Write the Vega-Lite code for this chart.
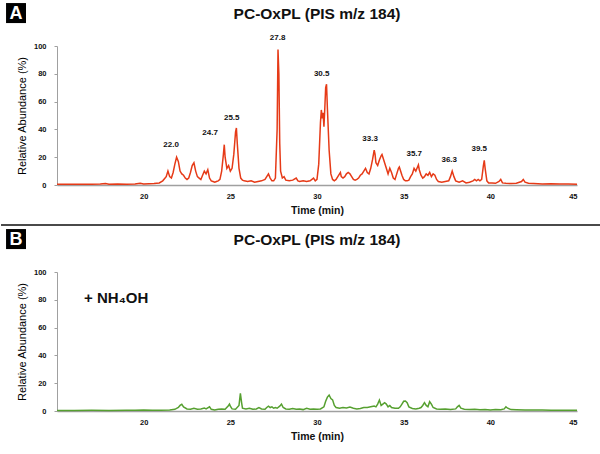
{
  "$schema": "https://vega.github.io/schema/vega-lite/v6.json",
  "padding": {"top": 3, "left": 0, "right": 0, "bottom": 0},
  "spacing": 2,
  "config": {
    "font": "Liberation Sans",
    "view": {"stroke": null},
    "axis": {"grid": false, "labelFont": "Liberation Sans", "labelFontSize": 7.5, "labelFontWeight": "bold", "labelColor": "#111111", "labelOverlap": false, "titleFont": "Liberation Sans", "titleColor": "#111111", "domainColor": "#a0a0a0", "tickColor": "#a0a0a0"},
    "axisX": {"ticks": false, "tickSize": 0, "labelPadding": 7, "titleFontSize": 10.5, "titleFontWeight": "bold", "titlePadding": 6, "domainWidth": 1.5},
    "axisY": {"tickSize": 3, "labelPadding": 8, "titleFontSize": 11, "titleFontWeight": "normal", "titleColor": "#000000", "titlePadding": 6},
    "title": {"font": "Liberation Sans", "fontSize": 15.5, "fontWeight": "bold", "color": "#111111", "anchor": "middle", "frame": "group", "baseline": "alphabetic"}
  },
  "datasets": {
    "a": [
      {"t":15.0,"v":0.5},{"t":15.5,"v":0.6},{"t":16.0,"v":0.5},{"t":16.5,"v":0.6},{"t":17.0,"v":0.5},{"t":17.5,"v":0.7},{"t":17.8,"v":1.0},{"t":18.0,"v":0.6},{"t":18.5,"v":0.7},{"t":19.0,"v":0.6},{"t":19.5,"v":0.8},{"t":19.8,"v":1.2},{"t":20.0,"v":0.7},{"t":20.3,"v":0.9},{"t":20.6,"v":1.0},{"t":20.9,"v":1.5},
      {"t":21.1,"v":3},{"t":21.3,"v":6},{"t":21.4,"v":10},{"t":21.5,"v":6},{"t":21.6,"v":5},{"t":21.7,"v":9},{"t":21.8,"v":15},{"t":21.9,"v":20},{"t":22.0,"v":17},{"t":22.1,"v":10},{"t":22.2,"v":8},{"t":22.3,"v":7},{"t":22.4,"v":5},{"t":22.5,"v":4},{"t":22.6,"v":5},{"t":22.7,"v":9},{"t":22.8,"v":14},{"t":22.9,"v":16},{"t":23.0,"v":10},{"t":23.1,"v":6},{"t":23.2,"v":5},{"t":23.3,"v":4},{"t":23.4,"v":7},{"t":23.5,"v":10},{"t":23.6,"v":8},{"t":23.7,"v":11},{"t":23.8,"v":5},{"t":23.9,"v":3},{"t":24.0,"v":2.5},{"t":24.1,"v":2},{"t":24.2,"v":2.5},{"t":24.3,"v":3},{"t":24.4,"v":4},{"t":24.5,"v":10},{"t":24.6,"v":22},{"t":24.65,"v":29},{"t":24.7,"v":20},{"t":24.8,"v":12},{"t":24.9,"v":14},{"t":25.0,"v":10},{"t":25.1,"v":12},{"t":25.2,"v":22},{"t":25.3,"v":38},{"t":25.35,"v":41},{"t":25.4,"v":30},{"t":25.5,"v":12},{"t":25.6,"v":5},{"t":25.7,"v":3.5},{"t":25.8,"v":3},{"t":26.0,"v":2.5},{"t":26.2,"v":3},{"t":26.4,"v":2},{"t":26.6,"v":2.5},{"t":26.8,"v":3},{"t":27.0,"v":4},{"t":27.1,"v":6},{"t":27.2,"v":8},{"t":27.3,"v":5},{"t":27.4,"v":3},{"t":27.5,"v":3},{"t":27.6,"v":5},{"t":27.7,"v":40},{"t":27.75,"v":97.5},{"t":27.8,"v":80},{"t":27.85,"v":30},{"t":27.9,"v":10},{"t":28.0,"v":5},{"t":28.1,"v":6},{"t":28.2,"v":3.5},{"t":28.4,"v":3},{"t":28.6,"v":3.5},{"t":28.8,"v":5},{"t":28.9,"v":3},{"t":29.0,"v":2.5},{"t":29.2,"v":3},{"t":29.4,"v":2.5},{"t":29.6,"v":3},{"t":29.8,"v":5},{"t":29.9,"v":3},{"t":30.0,"v":4},{"t":30.1,"v":15},{"t":30.2,"v":45},{"t":30.25,"v":54},{"t":30.3,"v":48},{"t":30.35,"v":52},{"t":30.4,"v":42},{"t":30.45,"v":55},{"t":30.5,"v":70},{"t":30.55,"v":72.5},{"t":30.6,"v":55},{"t":30.7,"v":25},{"t":30.8,"v":8},{"t":30.9,"v":4},{"t":31.0,"v":3},{"t":31.1,"v":4},{"t":31.2,"v":6},{"t":31.3,"v":8},{"t":31.35,"v":9},{"t":31.4,"v":6},{"t":31.5,"v":5},{"t":31.6,"v":6},{"t":31.7,"v":8},{"t":31.8,"v":9},{"t":31.9,"v":8},{"t":32.0,"v":6},{"t":32.1,"v":4},{"t":32.2,"v":3.5},{"t":32.3,"v":4},{"t":32.4,"v":5},{"t":32.5,"v":7},{"t":32.6,"v":8},{"t":32.7,"v":10},{"t":32.8,"v":12},{"t":32.9,"v":9},{"t":33.0,"v":8},{"t":33.1,"v":12},{"t":33.2,"v":18},{"t":33.3,"v":25},{"t":33.35,"v":22},{"t":33.4,"v":16},{"t":33.5,"v":14},{"t":33.6,"v":18},{"t":33.7,"v":21},{"t":33.75,"v":22},{"t":33.8,"v":20},{"t":33.9,"v":16},{"t":34.0,"v":12},{"t":34.1,"v":8},{"t":34.2,"v":12},{"t":34.3,"v":9},{"t":34.4,"v":5},{"t":34.5,"v":4},{"t":34.6,"v":8},{"t":34.7,"v":12},{"t":34.75,"v":13},{"t":34.8,"v":11},{"t":34.9,"v":7},{"t":35.0,"v":4},{"t":35.1,"v":3},{"t":35.2,"v":3},{"t":35.3,"v":3.5},{"t":35.4,"v":6},{"t":35.5,"v":8},{"t":35.6,"v":12},{"t":35.7,"v":10},{"t":35.8,"v":13},{"t":35.85,"v":14.5},{"t":35.9,"v":11},{"t":36.0,"v":7},{"t":36.1,"v":5},{"t":36.2,"v":6},{"t":36.3,"v":8},{"t":36.4,"v":7},{"t":36.5,"v":9},{"t":36.6,"v":6},{"t":36.7,"v":8},{"t":36.8,"v":7},{"t":36.9,"v":4},{"t":37.0,"v":2.5},{"t":37.2,"v":2},{"t":37.4,"v":2.5},{"t":37.6,"v":3},{"t":37.7,"v":6},{"t":37.8,"v":10},{"t":37.9,"v":6},{"t":38.0,"v":3},{"t":38.2,"v":2},{"t":38.4,"v":3},{"t":38.6,"v":1.5},{"t":38.8,"v":2},{"t":39.0,"v":3},{"t":39.1,"v":4},{"t":39.2,"v":3},{"t":39.3,"v":4},{"t":39.4,"v":3},{"t":39.5,"v":4},{"t":39.6,"v":14},{"t":39.65,"v":17.8},{"t":39.7,"v":12},{"t":39.8,"v":3},{"t":39.9,"v":1.5},{"t":40.1,"v":1.5},{"t":40.3,"v":1.2},{"t":40.5,"v":2.5},{"t":40.6,"v":4},{"t":40.7,"v":1.5},{"t":40.9,"v":1.2},{"t":41.2,"v":1},{"t":41.5,"v":1.3},{"t":41.8,"v":2.5},{"t":41.9,"v":4},{"t":42.0,"v":2},{"t":42.2,"v":1.2},{"t":42.5,"v":1.0},{"t":43.0,"v":0.8},{"t":43.5,"v":0.9},{"t":44.0,"v":0.7},{"t":44.5,"v":0.8},{"t":45.0,"v":0.6}
    ],
    "b": [
      {"t":15.0,"v":0.4},{"t":16.0,"v":0.4},{"t":17.0,"v":0.5},{"t":18.0,"v":0.4},{"t":19.0,"v":0.6},{"t":19.5,"v":0.5},{"t":20.0,"v":0.8},{"t":20.5,"v":0.5},{"t":21.0,"v":0.6},{"t":21.5,"v":0.8},{"t":21.8,"v":1.2},{"t":22.0,"v":2.5},{"t":22.1,"v":4},{"t":22.2,"v":4.8},{"t":22.3,"v":3},{"t":22.5,"v":1.5},{"t":22.7,"v":1.2},{"t":22.9,"v":2},{"t":23.1,"v":1.2},{"t":23.3,"v":1.5},{"t":23.5,"v":2.2},{"t":23.6,"v":1.5},{"t":23.8,"v":3},{"t":23.9,"v":1.2},{"t":24.1,"v":0.8},{"t":24.3,"v":1.2},{"t":24.5,"v":1.5},{"t":24.7,"v":1.2},{"t":24.9,"v":4},{"t":24.95,"v":5},{"t":25.0,"v":3.5},{"t":25.1,"v":1.5},{"t":25.3,"v":1.2},{"t":25.5,"v":4},{"t":25.58,"v":12.7},{"t":25.65,"v":6},{"t":25.7,"v":2},{"t":25.9,"v":1.5},{"t":26.1,"v":2},{"t":26.3,"v":1.2},{"t":26.5,"v":1.5},{"t":26.65,"v":2.5},{"t":26.8,"v":1.5},{"t":27.0,"v":1.2},{"t":27.1,"v":2.5},{"t":27.2,"v":3.5},{"t":27.3,"v":2.5},{"t":27.4,"v":3},{"t":27.5,"v":2},{"t":27.6,"v":2.5},{"t":27.7,"v":2},{"t":27.85,"v":3.5},{"t":27.95,"v":5},{"t":28.05,"v":2.5},{"t":28.2,"v":1.5},{"t":28.4,"v":1.2},{"t":28.6,"v":1.8},{"t":28.8,"v":1.2},{"t":29.0,"v":1.5},{"t":29.2,"v":1.0},{"t":29.4,"v":2},{"t":29.6,"v":1.2},{"t":29.8,"v":1.5},{"t":30.0,"v":1.2},{"t":30.2,"v":1.5},{"t":30.4,"v":3},{"t":30.5,"v":7},{"t":30.6,"v":10},{"t":30.7,"v":11.5},{"t":30.8,"v":9},{"t":30.9,"v":8},{"t":31.0,"v":4},{"t":31.1,"v":2.5},{"t":31.3,"v":2},{"t":31.5,"v":2.5},{"t":31.7,"v":2.2},{"t":31.9,"v":2.8},{"t":32.1,"v":2},{"t":32.3,"v":1.5},{"t":32.5,"v":1.8},{"t":32.7,"v":2.5},{"t":32.9,"v":2.5},{"t":33.1,"v":3},{"t":33.3,"v":3.5},{"t":33.4,"v":3},{"t":33.5,"v":5},{"t":33.6,"v":7.9},{"t":33.7,"v":4},{"t":33.8,"v":5},{"t":33.9,"v":6},{"t":34.0,"v":5},{"t":34.1,"v":3},{"t":34.2,"v":4},{"t":34.3,"v":2.5},{"t":34.5,"v":2},{"t":34.7,"v":2},{"t":34.8,"v":3},{"t":34.9,"v":5},{"t":35.0,"v":7},{"t":35.1,"v":7.2},{"t":35.2,"v":6},{"t":35.3,"v":3},{"t":35.5,"v":1.8},{"t":35.7,"v":1.5},{"t":35.9,"v":2},{"t":36.0,"v":2.5},{"t":36.1,"v":4},{"t":36.2,"v":6},{"t":36.3,"v":4},{"t":36.4,"v":3},{"t":36.5,"v":6.7},{"t":36.6,"v":5},{"t":36.7,"v":2.5},{"t":36.9,"v":1.5},{"t":37.1,"v":1.2},{"t":37.4,"v":1.5},{"t":37.7,"v":1},{"t":38.0,"v":1.5},{"t":38.1,"v":3},{"t":38.2,"v":4},{"t":38.3,"v":2},{"t":38.5,"v":1.2},{"t":38.8,"v":1},{"t":39.1,"v":1.3},{"t":39.4,"v":0.9},{"t":39.7,"v":1},{"t":40.0,"v":0.8},{"t":40.3,"v":1.0},{"t":40.6,"v":0.9},{"t":40.8,"v":1.5},{"t":40.9,"v":3},{"t":41.0,"v":2},{"t":41.2,"v":1},{"t":41.5,"v":0.9},{"t":42.0,"v":0.8},{"t":42.5,"v":0.7},{"t":43.0,"v":0.7},{"t":43.5,"v":0.6},{"t":44.0,"v":0.6},{"t":44.5,"v":0.5},{"t":45.0,"v":0.5}
    ],
    "peaks": [
      {"label":"22.0","t":21.58,"v":28.8},{"label":"24.7","t":23.83,"v":37.4},{"label":"25.5","t":25.08,"v":48},{"label":"27.8","t":27.73,"v":105.5},{"label":"30.5","t":30.27,"v":80},{"label":"33.3","t":33.06,"v":33},{"label":"35.7","t":35.61,"v":22},{"label":"36.3","t":37.63,"v":18},{"label":"39.5","t":39.36,"v":26}
    ]
  },
  "vconcat": [
    {
      "width": 520,
      "height": 139,
      "title": {"text": "PC-OxPL (PIS m/z 184)", "offset": -19},
      "layer": [
        {
          "data": {"name": "a"},
          "mark": {"type": "line", "color": "#e63a17", "strokeWidth": 1.5},
          "encoding": {
            "x": {"field": "t", "type": "quantitative", "scale": {"domain": [15, 45], "nice": false, "zero": false}, "axis": {"title": "Time (min)", "values": [20, 25, 30, 35, 40, 45], "labelOverlap": false}},
            "y": {"field": "v", "type": "quantitative", "scale": {"domain": [0, 100], "nice": false}, "axis": {"title": "Relative Abundance (%)", "tickCount": 5, "labelOverlap": false, "labelBound": false, "labelFontSize": 7.5, "titleFontSize": 11}}
          }
        },
        {
          "data": {"name": "peaks"},
          "mark": {"type": "text", "fontSize": 8, "fontWeight": "bold", "font": "Liberation Sans", "baseline": "middle", "color": "#111111"},
          "encoding": {
            "x": {"field": "t", "type": "quantitative"},
            "y": {"field": "v", "type": "quantitative"},
            "text": {"field": "label"}
          }
        },
        {
          "data": {"values": [{"panel": "A", "x1": 12.06, "x2": 13.21, "y1": 130.9, "y2": 116.5, "xc": 12.635, "yc": 123.7}]},
          "layer": [
            {
              "mark": {"type": "rect", "color": "#000000"},
              "encoding": {"x": {"field": "x1", "type": "quantitative"}, "x2": {"field": "x2"}, "y": {"field": "y1", "type": "quantitative"}, "y2": {"field": "y2"}}
            },
            {
              "mark": {"type": "text", "color": "#ffffff", "fontSize": 18, "fontWeight": "bold", "font": "Liberation Sans", "baseline": "middle", "align": "center", "dy": 1},
              "encoding": {"x": {"field": "xc", "type": "quantitative"}, "y": {"field": "yc", "type": "quantitative"}, "text": {"field": "panel"}}
            }
          ]
        },
        {
          "data": {"values": [{"x1": 11.77, "x2": 46.39, "y": -28.8}]},
          "mark": {"type": "rule", "color": "#4a4a4a", "strokeWidth": 2},
          "encoding": {"x": {"field": "x1", "type": "quantitative"}, "x2": {"field": "x2"}, "y": {"field": "y", "type": "quantitative"}}
        }
      ]
    },
    {
      "width": 520,
      "height": 139,
      "title": {"text": "PC-OxPL (PIS m/z 184)", "offset": -19},
      "layer": [
        {
          "data": {"name": "b"},
          "mark": {"type": "line", "color": "#56a030", "strokeWidth": 1.5},
          "encoding": {
            "x": {"field": "t", "type": "quantitative", "scale": {"domain": [15, 45], "nice": false, "zero": false}, "axis": {"title": "Time (min)", "values": [20, 25, 30, 35, 40, 45], "labelOverlap": false}},
            "y": {"field": "v", "type": "quantitative", "scale": {"domain": [0, 100], "nice": false}, "axis": {"title": "Relative Abundance (%)", "tickCount": 5, "labelOverlap": false, "labelBound": false, "labelFontSize": 7.5, "titleFontSize": 11}}
          }
        },
        {
          "data": {"values": [{"note": "+ NH₄OH", "t": 16.56, "v": 81.5}]},
          "mark": {"type": "text", "fontSize": 15, "fontWeight": "bold", "font": "Liberation Sans", "align": "left", "baseline": "middle", "color": "#111111"},
          "encoding": {"x": {"field": "t", "type": "quantitative"}, "y": {"field": "v", "type": "quantitative"}, "text": {"field": "note"}}
        },
        {
          "data": {"values": [{"panel": "B", "x1": 12.06, "x2": 13.21, "y1": 130.9, "y2": 116.5, "xc": 12.635, "yc": 123.7}]},
          "layer": [
            {
              "mark": {"type": "rect", "color": "#000000"},
              "encoding": {"x": {"field": "x1", "type": "quantitative"}, "x2": {"field": "x2"}, "y": {"field": "y1", "type": "quantitative"}, "y2": {"field": "y2"}}
            },
            {
              "mark": {"type": "text", "color": "#ffffff", "fontSize": 18, "fontWeight": "bold", "font": "Liberation Sans", "baseline": "middle", "align": "center", "dy": 1},
              "encoding": {"x": {"field": "xc", "type": "quantitative"}, "y": {"field": "yc", "type": "quantitative"}, "text": {"field": "panel"}}
            }
          ]
        }
      ]
    }
  ]
}
